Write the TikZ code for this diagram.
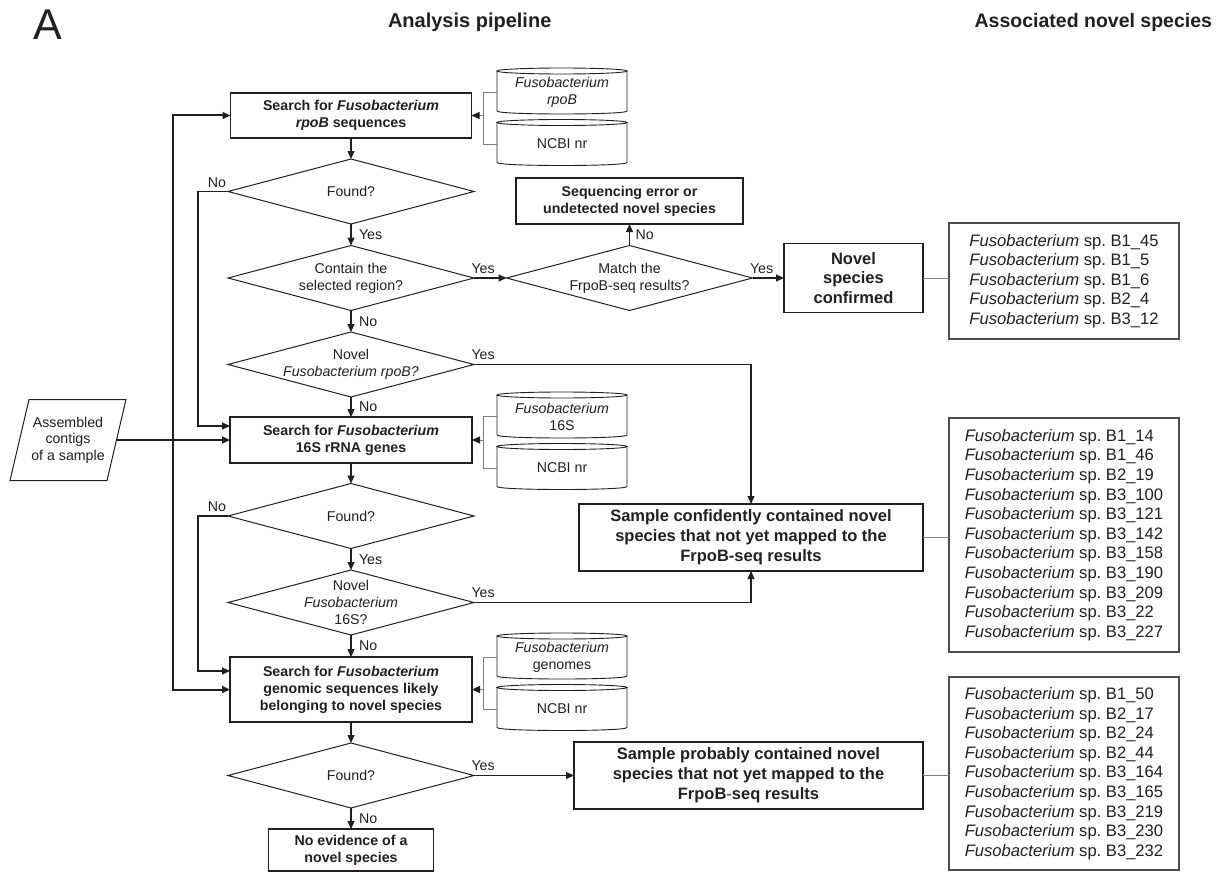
\documentclass[tikz,border=0pt]{standalone}
\usepackage{fontspec}
\setmainfont{Liberation Sans}
\usetikzlibrary{arrows.meta,shapes.geometric,calc}
\definecolor{ink}{HTML}{231F20}
\definecolor{gline}{HTML}{7F7F7F}
\definecolor{lbox}{HTML}{4D4D4D}
\definecolor{hyph}{HTML}{3C78C8}
\newcommand{\fsz}{\fontsize{14.2}{17}\selectfont}
\newcommand{\fbz}{\fontsize{16.5}{19.8}\selectfont}
\newcommand{\flz}{\fontsize{16.6}{19.6}\selectfont}
\newcommand{\Fuso}{\textit{Fusobacterium}}
\newcommand{\dbshape}[1]{%
  \draw[cyl] (#1.north west) -- ([yshift=3pt]#1.south west)
    .. controls ([yshift=-1pt]#1.south west) and ([yshift=-1pt]#1.south east) .. ([yshift=3pt]#1.south east)
    -- (#1.north east);
  \draw[cyl] (#1.north) ellipse [x radius=65pt, y radius=3pt];}
\tikzset{
  base/.style={text=ink, inner sep=0pt, outer sep=0pt},
  procbox/.style={base, draw=ink, line width=1.1pt, align=center, font=\fsz\bfseries},
  resbox/.style={base, draw=ink, line width=1.1pt, align=center, font=\fbz\bfseries},
  dia/.style={base, draw=ink, line width=1pt, diamond, minimum width=246pt, minimum height=65pt},
  dtext/.style={base, align=center, font=\fsz},
  dbtext/.style={base, align=center, font=\fsz, minimum width=130pt, minimum height=43pt},
  cyl/.style={draw=ink, line width=0.9pt},
  lbl/.style={base, font=\fsz},
  listbox/.style={base, draw=lbox, line width=1.1pt, align=left, font=\flz, minimum width=230pt},
  arr/.style={draw=ink, line width=1.1pt, -{Triangle[length=8pt,width=7pt]}},
  tarr/.style={draw=ink, line width=2pt, -{Triangle[length=8pt,width=7pt]}},
  gl/.style={draw=gline, line width=1pt},
  garr/.style={draw=gline, line width=1pt, -{Triangle[length=8pt,width=7pt,color=ink]}},
}
\begin{document}
\frenchspacing
\begin{tikzpicture}[x=1pt,y=-1pt]
\useasboundingbox (0,0) rectangle (1220,872);

% headers
\node[base, font=\fontsize{43}{45}\selectfont] (hA) at (48,25) {A};
\node[base, font=\fontsize{20}{22}\selectfont\bfseries, anchor=west] (h1) at (388,22) {Analysis pipeline};
\node[base, font=\fontsize{19.5}{22}\selectfont\bfseries, anchor=east] (h2) at (1212,22) {Associated novel species};

% input
\node[base, minimum width=116pt, minimum height=81pt, align=center, font=\fontsize{14.2}{16.5}\selectfont] (para) at (68,440) {Assembled\\contigs\\of a sample};
\draw[ink, line width=1pt] ([xshift=19pt]para.north west) -- (para.north east) -- ([xshift=-19pt]para.south east) -- (para.south west) -- cycle;
\coordinate (pe) at ([xshift=-9.5pt]para.east);
\coordinate (J) at (173,440);

% process boxes
\node[procbox, minimum width=241pt, minimum height=45pt] (b1) at (351,115.5) {Search for \Fuso\\\textit{rpoB} sequences};
\node[procbox, minimum width=242pt, minimum height=46pt] (b2) at (351,440) {Search for \Fuso\\16S rRNA genes};
\node[procbox, minimum width=242pt, minimum height=65pt] (b3) at (351,689.5) {Search for \Fuso\\genomic sequences likely\\belonging to novel species};
\node[procbox, minimum width=165pt, minimum height=42pt] (b4) at (351,850) {No evidence of a\\novel species};
\node[procbox, minimum width=227pt, minimum height=46pt] (se) at (629.5,201) {Sequencing error or\\undetected novel species};
\node[resbox, minimum width=139pt, minimum height=69pt] (nsc) at (853.5,278) {Novel\\species\\confirmed};
\node[resbox, minimum width=344pt, minimum height=67pt] (sc) at (751,537.5) {Sample confidently contained novel\\species that not yet mapped to the\\FrpoB-seq results};
\node[resbox, minimum width=349pt, minimum height=67pt] (sp) at (748.5,775.5) {Sample probably contained novel\\species that not yet mapped to the\\FrpoB{\color{hyph}-}seq results};

% diamonds
\node[dia] (d1) at (351,191.5) {};
\node[dtext] (d1t) at (d1) {Found?};
\node[dia] (d2) at (351,278) {};
\node[dtext] (d2t) at (d2) {Contain the\\selected region?};
\node[dia] (d3) at (629.5,278) {};
\node[dtext] (d3t) at (d3) {Match the\\FrpoB-seq results?};
\node[dia] (d4) at (351,364.5) {};
\node[dtext] (d4t) at (d4) {Novel\\\textit{Fusobacterium rpoB?}};
\node[dia] (d5) at (351,516) {};
\node[dtext] (d5t) at (d5) {Found?};
\node[dia] (d6) at (351,602.5) {};
\node[dtext] (d6t) at (d6) {Novel\\\Fuso\\16S?};
\node[dia] (d7) at (351,775.5) {};
\node[dtext] (d7t) at (d7) {Found?};

% databases
\node[dbtext] (c1) at (562,92.5) {\Fuso\\\textit{rpoB}};
\node[dbtext] (c2) at (562,144) {NCBI nr};
\node[dbtext] (c3) at (562,416.5) {\Fuso\\16S};
\node[dbtext] (c4) at (562,468) {NCBI nr};
\node[dbtext] (c5) at (562,657.5) {\Fuso\\genomes};
\node[dbtext] (c6) at (562,709) {NCBI nr};
\dbshape{c1}\dbshape{c2}\dbshape{c3}\dbshape{c4}\dbshape{c5}\dbshape{c6}

\coordinate (k1) at ($(c1.west)+(-14,0)$);
\coordinate (k2) at ($(c3.west)+(-14,0)$);
\coordinate (k3) at ($(c5.west)+(-14,0)$);
\draw[gl] (c1.west) -- (k1) |- (c2.west);
\draw[gl] (c3.west) -- (k2) |- (c4.west);
\draw[gl] (c5.west) -- (k3) |- (c6.west);
\draw[garr] (k1 |- b1.east) -- (b1.east);
\draw[garr] (k2 |- b2.east) -- (b2.east);
\draw[garr] (k3 |- b3.east) -- (b3.east);

% lists
\node[listbox, minimum height=116pt] (l1) at (1064,281) {\Fuso{} sp. B1\_45\\\Fuso{} sp. B1\_5\\\Fuso{} sp. B1\_6\\\Fuso{} sp. B2\_4\\\Fuso{} sp. B3\_12};
\node[listbox, minimum height=234pt] (l2) at (1064,535) {\Fuso{} sp. B1\_14\\\Fuso{} sp. B1\_46\\\Fuso{} sp. B2\_19\\\Fuso{} sp. B3\_100\\\Fuso{} sp. B3\_121\\\Fuso{} sp. B3\_142\\\Fuso{} sp. B3\_158\\\Fuso{} sp. B3\_190\\\Fuso{} sp. B3\_209\\\Fuso{} sp. B3\_22\\\Fuso{} sp. B3\_227};
\node[listbox, minimum height=193pt] (l3) at (1064,773.5) {\Fuso{} sp. B1\_50\\\Fuso{} sp. B2\_17\\\Fuso{} sp. B2\_24\\\Fuso{} sp. B2\_44\\\Fuso{} sp. B3\_164\\\Fuso{} sp. B3\_165\\\Fuso{} sp. B3\_219\\\Fuso{} sp. B3\_230\\\Fuso{} sp. B3\_232};
\draw[gl] (nsc.east) -- (nsc.east -| l1.west);
\draw[gl] (sc.east) -- (sc.east -| l2.west);
\draw[gl] (sp.east) -- (sp.east -| l3.west);

% thick input connectors
\draw[tarr] (pe) -- (b2.west);
\draw[tarr] (J) |- (b1.west);
\draw[tarr] (J) |- (b3.west);

% flow connectors
\draw[arr] (b1.south) -- (d1.north);
\draw[arr] (d1.south) -- (d2.north);
\draw[arr] (d2.east) -- (d3.west);
\draw[arr] (d3.north) -- (se.south);
\draw[arr] (d3.east) -- (nsc.west);
\draw[arr] (d2.south) -- (d4.north);
\draw[arr] (d4.south) -- (b2.north);
\draw[arr] (d4.east) -| (sc.north);
\draw[arr] (d1.west) -- ++(-30,0) |- ([yshift=-9pt]b2.north west);
\draw[arr] (b2.south) -- (d5.north);
\draw[arr] (d5.south) -- (d6.north);
\draw[arr] (d6.east) -| (sc.south);
\draw[arr] (d6.south) -- (b3.north);
\draw[arr] (d5.west) -- ++(-30,0) |- ([yshift=-14pt]b3.north west);
\draw[arr] (b3.south) -- (d7.north);
\draw[arr] (d7.east) -- (sp.west);
\draw[arr] (d7.south) -- (b4.north);

% labels
\node[lbl, anchor=south east] (n1) at ([xshift=-2pt,yshift=4pt]d1.west) {No};
\node[lbl, anchor=south east] (n5) at ([xshift=-2pt,yshift=4pt]d5.west) {No};
\node[lbl, anchor=west] (y12) at ($(d1.south)!0.5!(d2.north)+(8,0)$) {Yes};
\node[lbl, anchor=west] (n24) at ($(d2.south)!0.5!(d4.north)+(8,0)$) {No};
\node[lbl, anchor=west] (n4b) at ($(d4.south)!0.5!(b2.north)+(8,0)$) {No};
\node[lbl, anchor=west] (y56) at ($(d5.south)!0.5!(d6.north)+(8,0)$) {Yes};
\node[lbl, anchor=west] (n6b) at ($(d6.south)!0.5!(b3.north)+(8,0)$) {No};
\node[lbl, anchor=west] (n7b) at ($(d7.south)!0.5!(b4.north)+(8,0)$) {No};
\node[lbl, anchor=west] (n3s) at ($(d3.north)!0.5!(se.south)+(6,0)$) {No};
\node[lbl, anchor=south west] (y23) at ([xshift=-2.5pt,yshift=4.5pt]d2.east) {Yes};
\node[lbl, anchor=south west] (y3n) at ([xshift=-2.5pt,yshift=4.5pt]d3.east) {Yes};
\node[lbl, anchor=south west] (y4s) at ([xshift=-2.5pt,yshift=4.5pt]d4.east) {Yes};
\node[lbl, anchor=south west] (y6s) at ([xshift=-2.5pt,yshift=4.5pt]d6.east) {Yes};
\node[lbl, anchor=south west] (y7s) at ([xshift=-2.5pt,yshift=4.5pt]d7.east) {Yes};
\end{tikzpicture}
\end{document}
